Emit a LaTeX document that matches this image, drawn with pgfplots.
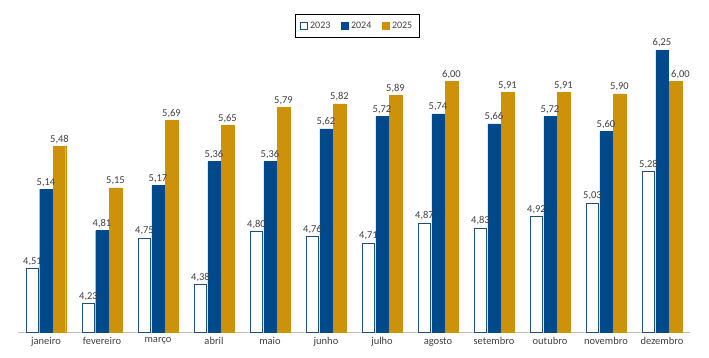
\documentclass[border=0pt]{standalone}
\usepackage{pgfplots}
\pgfplotsset{compat=1.18}
\usepackage{fontspec}
\setmainfont{Carlito}
\definecolor{c23}{RGB}{31,78,121}
\definecolor{c24}{RGB}{0,74,140}
\definecolor{c25}{RGB}{204,146,10}
\definecolor{txt}{RGB}{64,64,64}
\pgfplotstableread{
m a b c
0 4.51 5.14 5.48
1 4.23 4.81 5.15
2 4.75 5.17 5.69
3 4.38 5.36 5.65
4 4.80 5.36 5.79
5 4.76 5.62 5.82
6 4.71 5.72 5.89
7 4.87 5.74 6.00
8 4.83 5.66 5.91
9 4.92 5.72 5.91
10 5.03 5.60 5.90
11 5.28 6.25 6.00
}\data
\begin{document}
\begin{tikzpicture}
\useasboundingbox (-18bp,-26bp) rectangle (691bp,332bp);
\begin{axis}[
  scale only axis, width=672bp, height=313.3bp,
  xmin=-0.5, xmax=11.5, ymin=4, ymax=6.5,
  ybar, bar width=12.5bp,
  axis x line*=bottom, axis y line=none,
  x axis line style={draw=black!25, line width=0.8pt, -},
  xtick=data, major tick length=0pt,
  xticklabels={janeiro,fevereiro,março,abril,maio,junho,julho,agosto,setembro,outubro,novembro,dezembro},
  xticklabel style={font=\fontsize{10.5bp}{12bp}\selectfont, text=txt, yshift=-2bp},
  every node near coord/.append style={font=\fontsize{10.5bp}{12bp}\selectfont, text=txt, inner sep=2.5bp},
  /pgf/number format/.cd, use comma, fixed, fixed zerofill, precision=2, assume math mode=true,
  /pgfplots/.cd,
  legend style={at={(0.505,0.977)}, anchor=center, draw=black, line width=0.7pt, font=\fontsize{10bp}{11bp}\selectfont, text=txt, legend columns=3, /tikz/every even column/.append style={column sep=9bp}, inner xsep=5bp, inner ysep=5.5bp},
  legend image code/.code={\draw[#1, line width=0.7pt] (0bp,-3.5bp) rectangle (7bp,3.5bp);},
]
\addplot[draw=c23, fill=white, line width=0.8pt, bar shift=-13.5bp] table[x=m,y=a] {\data};
\addplot[draw=c24, fill=c24, bar shift=0bp] table[x=m,y=b] {\data};
\addplot[draw=c25, fill=c25, bar shift=13.5bp] table[x=m,y=c] {\data};
\legend{2023,2024,2025}
\addplot[forget plot, draw=none, fill=none, bar shift=-13.5bp, nodes near coords] table[x=m,y=a] {\data};
\addplot[forget plot, draw=none, fill=none, bar shift=0bp, nodes near coords] table[x=m,y=b] {\data};
\addplot[forget plot, draw=none, fill=none, bar shift=13.5bp, nodes near coords, restrict x to domain=0:10] table[x=m,y=c] {\data};
\addplot[forget plot, draw=none, fill=none, bar shift=13.5bp, nodes near coords, every node near coord/.append style={xshift=5bp}] coordinates {(11,6.00)};
\end{axis}
\end{tikzpicture}
\end{document}
